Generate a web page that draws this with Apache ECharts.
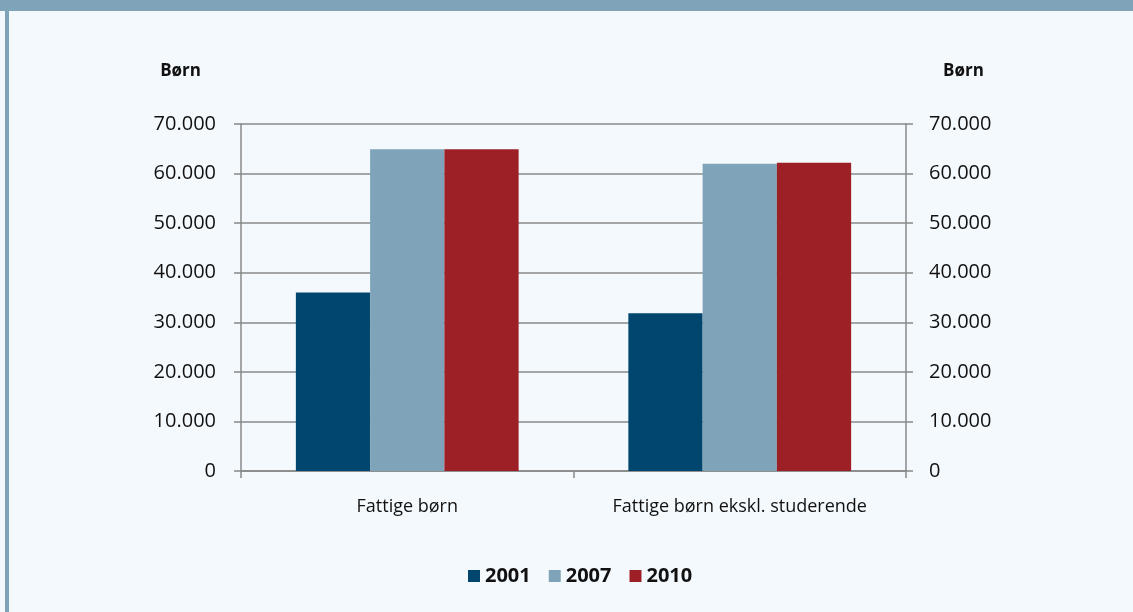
<!DOCTYPE html>
<html>
<head>
<meta charset="utf-8">
<script src="https://cdn.jsdelivr.net/npm/echarts@6/dist/echarts.min.js"></script>
<style>
  html, body { margin: 0; padding: 0; background: #f4f9fd; }
  #chart { width: 1133px; height: 612px; }
</style>
</head>
<body>
<div id="chart"></div>
<script>
// data
const categories = ["Fattige børn", "Fattige børn ekskl. studerende"];
const years = ["2001", "2007", "2010"];
const values2001 = [36000, 31800];
const values2007 = [64900, 62000];
const values2010 = [64900, 62200];
const yTicks = { min: 0, max: 70000, interval: 10000 };

const colors = ["#00466e", "#7fa3b8", "#9e2027"];
const axisGrey = "#888888";
const fontFamily = "'Open Sans', sans-serif";

// 70000 -> 70.000
const fmt = v => String(v).replace(/\B(?=(\d{3})+(?!\d))/g, ".");

const valueAxis = (pos, extra) => Object.assign({
  type: "value",
  position: pos,
  min: yTicks.min,
  max: yTicks.max,
  interval: yTicks.interval,
  name: "Børn",
  nameLocation: "end",
  nameGap: 44,
  axisLine: { show: true, lineStyle: { color: axisGrey, width: 1.5 } },
  axisTick: { show: true, inside: false, length: 7, lineStyle: { color: axisGrey, width: 1.5 } },
  splitLine: { show: false }
}, extra);

const nameStyle = { fontSize: 17, fontWeight: "bold", color: "#111", fontFamily };

const myChart = echarts.init(document.getElementById("chart"));

const option = {
  backgroundColor: "#f4f9fd",
  animation: false,
  color: colors,
  graphic: [
    // top band and left edge of the frame
    { type: "rect", left: 0, top: 0, shape: { width: 1133, height: 11 }, style: { fill: "#7fa3b8" } },
    { type: "rect", left: 5, top: 0, shape: { width: 4, height: 612 }, style: { fill: "#7fa3b8" } }
  ],
  grid: { left: 241, right: 227, top: 124, bottom: 141, containLabel: false },
  legend: {
    top: 561,
    left: 463,
    icon: "rect",
    itemWidth: 12,
    itemHeight: 12,
    itemGap: 18,
    textStyle: { fontSize: 20, fontWeight: "bold", color: "#111", fontFamily },
    data: years
  },
  xAxis: {
    type: "category",
    data: categories,
    axisLine: { lineStyle: { color: axisGrey, width: 1.5 } },
    axisTick: { show: true, length: 7, lineStyle: { color: axisGrey, width: 1.5 } },
    axisLabel: { color: "#111", fontSize: 18, fontFamily, margin: 27 }
  },
  yAxis: [
    valueAxis("left", {
      axisLabel: { color: "#111", fontSize: 20, fontFamily, margin: 25, formatter: fmt },
      nameTextStyle: Object.assign({ align: "right", padding: [0, 40, 0, 0] }, nameStyle),
      splitLine: { show: true, lineStyle: { color: axisGrey, width: 1.5 } }
    }),
    valueAxis("right", {
      axisLabel: { color: "#111", fontSize: 20, fontFamily, margin: 23, formatter: fmt },
      nameTextStyle: Object.assign({ align: "left", padding: [0, 0, 0, 37] }, nameStyle)
    })
  ],
  series: [
    { name: years[0], type: "bar", data: values2001, barGap: "0%", barCategoryGap: "33%" },
    { name: years[1], type: "bar", data: values2007, barGap: "0%", barCategoryGap: "33%" },
    { name: years[2], type: "bar", data: values2010, barGap: "0%", barCategoryGap: "33%" }
  ]
};

myChart.setOption(option);
</script>
</body>
</html>
